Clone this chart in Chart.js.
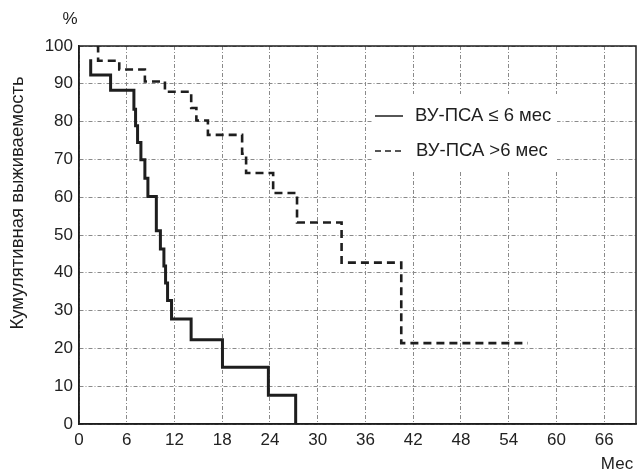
<!DOCTYPE html>
<html>
<head>
<meta charset="utf-8">
<script src="https://cdn.jsdelivr.net/npm/chart.js@4"></script>
<style>
  html, body { margin: 0; padding: 0; background: #fff; }
  canvas { display: block; }
</style>
</head>
<body>
<canvas id="km" width="637" height="472"></canvas>
<script>
// Kaplan–Meier survival, months vs cumulative survival (%)
const monthTicks = [0, 6, 12, 18, 24, 30, 36, 42, 48, 54, 60, 66];
const percentTicks = [0, 10, 20, 30, 40, 50, 60, 70, 80, 90, 100];

// ВУ-ПСА ≤ 6 мес
const shortMonths   = [1.47, 1.47, 3.97, 6.90, 7.11, 7.36, 7.78, 8.28, 8.66, 9.72, 10.23, 10.67, 10.88, 11.13, 11.63, 14.09, 18.03, 23.80, 27.23];
const shortSurvival = [96.5, 92.3, 88.3, 83.3, 78.9, 74.5, 69.9, 65.0, 60.2, 51.1, 46.3, 41.8, 37.3, 32.7, 27.8, 22.3, 15.0, 7.6, 0];

// ВУ-ПСА >6 мес
const longMonths   = [2.2, 2.4, 5.06, 8.28, 10.8, 14.1, 14.75, 16.2, 20.5, 21.0, 24.4, 27.4, 33.0, 40.5, 56.4];
const longSurvival = [100, 96.1, 93.8, 90.6, 87.9, 83.6, 80.3, 76.5, 71.5, 66.4, 61.1, 53.3, 42.7, 21.4, 21.4];

const seriesNames = ['ВУ-ПСА ≤ 6 мес', 'ВУ-ПСА >6 мес'];

const toPoints = (xs, ys) => xs.map((x, i) => ({ x, y: ys[i] }));

const FONT = '"Liberation Sans", Arial, sans-serif';
const INK = '#1e1e1e';
const GRID = '#8a8a8a';

const decorations = {
  id: 'decorations',
  beforeDatasetsDraw(chart) {
    const { ctx, chartArea: a } = chart;
    ctx.save();
    // legend panel
    const lx = a.left + 294, ly = a.top + 48;
    ctx.fillStyle = '#fff';
    ctx.fillRect(lx, ly, 184, 77);
    ctx.strokeStyle = INK;
    ctx.lineWidth = 1.5;
    ctx.beginPath();
    ctx.moveTo(lx + 2, ly + 22); ctx.lineTo(lx + 30, ly + 22);
    ctx.stroke();
    ctx.setLineDash([6, 4]);
    ctx.beginPath();
    ctx.moveTo(lx + 2, ly + 57); ctx.lineTo(lx + 30, ly + 57);
    ctx.stroke();
    ctx.setLineDash([]);
    ctx.fillStyle = INK;
    ctx.font = '18.5px ' + FONT;
    ctx.textBaseline = 'middle';
    ctx.textAlign = 'left';
    ctx.fillText(seriesNames[0], lx + 42, ly + 22);
    ctx.fillText(seriesNames[1], lx + 43, ly + 57);
    ctx.restore();
  },
  afterDraw(chart) {
    const { ctx, chartArea: a } = chart;
    ctx.save();
    // frame
    ctx.strokeStyle = INK;
    ctx.lineWidth = 1.5;
    ctx.strokeRect(a.left, a.top, a.right - a.left, a.bottom - a.top);
    ctx.fillStyle = INK;
    ctx.font = '17px ' + FONT;
    ctx.textAlign = 'center';
    ctx.textBaseline = 'middle';
    ctx.fillText('%', 70, 19);
    ctx.fillText('Мес', 617, 464);
    // vertical axis title
    ctx.font = '18.5px ' + FONT;
    ctx.translate(18, 203);
    ctx.rotate(-Math.PI / 2);
    ctx.fillText('Кумулятивная выживаемость', 0, 0);
    ctx.restore();
  }
};

new Chart(document.getElementById('km'), {
  type: 'line',
  data: {
    datasets: [
      {
        label: seriesNames[0],
        data: toPoints(shortMonths, shortSurvival),
        stepped: 'before',
        borderColor: INK,
        borderWidth: 3,
        pointRadius: 0,
        fill: false,
        borderJoinStyle: 'miter',
        borderCapStyle: 'butt'
      },
      {
        label: seriesNames[1],
        data: toPoints(longMonths, longSurvival),
        stepped: 'before',
        borderColor: INK,
        borderWidth: 2.6,
        borderDash: [8, 5],
        pointRadius: 0,
        fill: false,
        borderJoinStyle: 'miter',
        borderCapStyle: 'butt'
      }
    ]
  },
  options: {
    responsive: false,
    animation: false,
    layout: { padding: { top: 46, right: 1, left: 0, bottom: 0 } },
    plugins: { legend: { display: false }, tooltip: { enabled: false } },
    scales: {
      x: {
        type: 'linear',
        min: 0,
        max: 70,
        afterBuildTicks(axis) {
          axis.ticks = monthTicks.map(v => ({ value: v }));
        },
        afterFit(scale) { scale.height = 48; },
        grid: { color: GRID, lineWidth: 1, drawTicks: false },
        border: { display: true, color: INK, width: 1.5, dash: [4, 2, 1, 2] },
        ticks: { color: '#222', padding: 6, font: { family: FONT, size: 17 }, maxRotation: 0, autoSkip: false }
      },
      y: {
        type: 'linear',
        min: 0,
        max: 100,
        afterBuildTicks(axis) {
          axis.ticks = percentTicks.map(v => ({ value: v }));
        },
        afterFit(scale) { scale.width = 79; },
        grid: { color: GRID, lineWidth: 1, drawTicks: false },
        border: { display: true, color: INK, width: 1.5, dash: [4, 2, 1, 2] },
        ticks: { color: '#222', padding: 6, font: { family: FONT, size: 17 }, autoSkip: false }
      }
    }
  },
  plugins: [decorations]
});
</script>
</body>
</html>
